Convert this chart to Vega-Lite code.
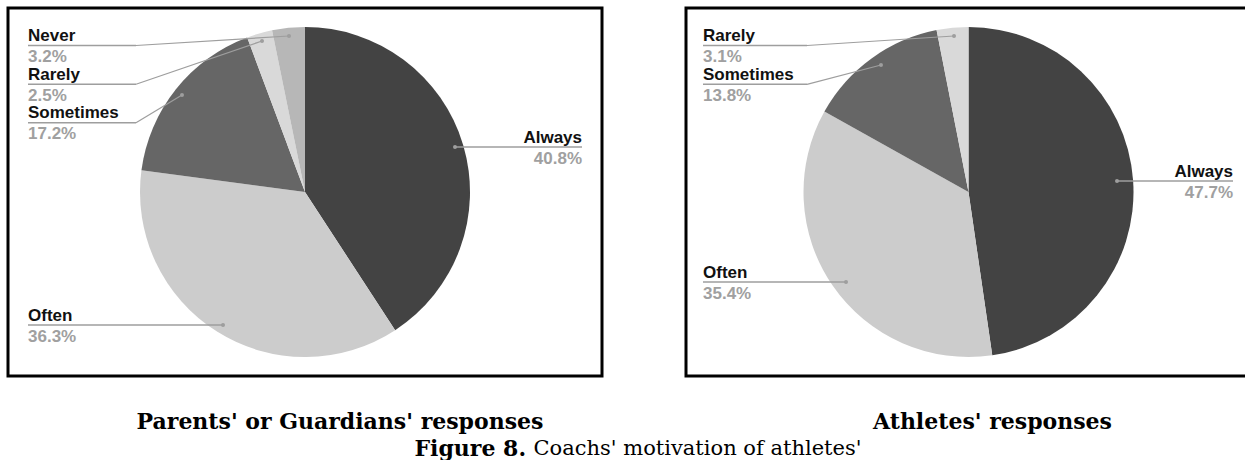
{
  "$schema": "https://vega.github.io/schema/vega-lite/v6.json",
  "padding": {"left": 6, "top": 6, "right": 0, "bottom": 0},
  "autosize": {"type": "pad"},
  "background": "white",
  "config": {
    "view": {"stroke": "#000000", "strokeWidth": 3},
    "text": {"font": "Liberation Sans"}
  },
  "title": {
    "text": "Coachs' motivation of athletes'",
    "orient": "bottom",
    "anchor": "start",
    "dx": 527,
    "dy": -22,
    "offset": 0,
    "font": "DejaVu Serif",
    "fontSize": 21,
    "fontWeight": "normal",
    "color": "#000000"
  },
  "vconcat": [
    {
      "title": {
        "text": "Figure 8.",
        "orient": "bottom",
        "anchor": "start",
        "dx": 408,
        "offset": 4,
        "font": "DejaVu Serif",
        "fontSize": 22,
        "fontWeight": "bold",
        "color": "#000000"
      },
      "spacing": 80,
      "hconcat": [
        {
          "width": 594,
          "height": 368,
          "title": {
            "text": "Parents' or Guardians' responses",
            "orient": "bottom",
            "dx": 35,
            "offset": 36,
            "font": "DejaVu Serif",
            "fontSize": 22,
            "fontWeight": "bold",
            "color": "#000000"
          },
          "data": {
            "values": [
              {"cat": "Always", "pct": 0.408, "k": 1},
              {"cat": "Often", "pct": 0.363, "k": 2},
              {"cat": "Sometimes", "pct": 0.172, "k": 3},
              {"cat": "Rarely", "pct": 0.025, "k": 4},
              {"cat": "Never", "pct": 0.032, "k": 5}
            ]
          },
          "resolve": {"scale": {"x": "independent", "y": "independent"}},
          "layer": [
            {
              "mark": {"type": "arc", "outerRadius": 165, "strokeWidth": 0},
              "encoding": {
                "theta": {"field": "pct", "type": "quantitative", "stack": true},
                "order": {"field": "k", "type": "quantitative"},
                "color": {
                  "field": "cat",
                  "type": "nominal",
                  "scale": {
                    "domain": ["Always", "Often", "Sometimes", "Rarely", "Never"],
                    "range": ["#434343", "#cccccc", "#666666", "#d9d9d9", "#b7b7b7"]
                  },
                  "legend": null
                }
              }
            },
            {
              "mark": {"type": "rule", "color": "#9e9e9e", "strokeWidth": 1.4},
              "encoding": {
                "x": {"field": "k", "type": "quantitative", "axis": null,
                  "scale": {"domain": [0.025, 0.032, 0.172, 0.363, 0.408, 1, 2, 3, 4, 5],
                    "range": [128, 128, 128, 215, 574, 447, 20, 20, 20, 20], "zero": false, "nice": false}},
                "x2": {"field": "pct"},
                "y": {"field": "k", "type": "quantitative", "axis": null,
                  "scale": {"domain": [1, 2, 3, 4, 5], "range": [139, 317, 114.7, 76.3, 37.5], "zero": false, "nice": false}}
              }
            },
            {
              "transform": [{"filter": "datum.k >= 3"}],
              "mark": {"type": "rule", "color": "#9e9e9e", "strokeWidth": 1.2},
              "encoding": {
                "x": {"field": "k", "type": "quantitative", "axis": null,
                  "scale": {"domain": [0.025, 0.032, 0.172, 3, 4, 5],
                    "range": [254, 281, 174, 128, 128, 128], "zero": false, "nice": false}},
                "x2": {"field": "pct"},
                "y": {"field": "k", "type": "quantitative", "axis": null,
                  "scale": {"domain": [0.025, 0.032, 0.172, 3, 4, 5],
                    "range": [33, 28, 87, 114.7, 76.3, 37.5], "zero": false, "nice": false}},
                "y2": {"field": "pct"}
              }
            },
            {
              "mark": {"type": "point", "filled": true, "size": 16, "color": "#9e9e9e", "opacity": 1},
              "encoding": {
                "x": {"field": "k", "type": "quantitative", "axis": null,
                  "scale": {"domain": [1, 2, 3, 4, 5], "range": [447, 215, 174, 254, 281], "zero": false, "nice": false}},
                "y": {"field": "k", "type": "quantitative", "axis": null,
                  "scale": {"domain": [1, 2, 3, 4, 5], "range": [139, 317, 87, 33, 28], "zero": false, "nice": false}}
              }
            },
            {
              "mark": {"type": "text", "fontWeight": "bold", "fontSize": 17, "color": "#111111",
                "baseline": "alphabetic", "dy": -4.5,
                "align": {"expr": "datum.k == 1 ? 'right' : 'left'"}},
              "encoding": {
                "x": {"field": "k", "type": "quantitative", "axis": null,
                  "scale": {"domain": [1, 2, 3, 4, 5], "range": [574, 20, 20, 20, 20], "zero": false, "nice": false}},
                "y": {"field": "k", "type": "quantitative", "axis": null,
                  "scale": {"domain": [1, 2, 3, 4, 5], "range": [139, 317, 114.7, 76.3, 37.5], "zero": false, "nice": false}},
                "text": {"field": "cat"}
              }
            },
            {
              "mark": {"type": "text", "fontWeight": "bold", "fontSize": 17, "color": "#a0a0a0",
                "baseline": "alphabetic", "dy": 16.5,
                "align": {"expr": "datum.k == 1 ? 'right' : 'left'"}},
              "encoding": {
                "x": {"field": "k", "type": "quantitative", "axis": null,
                  "scale": {"domain": [1, 2, 3, 4, 5], "range": [574, 20, 20, 20, 20], "zero": false, "nice": false}},
                "y": {"field": "k", "type": "quantitative", "axis": null,
                  "scale": {"domain": [1, 2, 3, 4, 5], "range": [139, 317, 114.7, 76.3, 37.5], "zero": false, "nice": false}},
                "text": {"field": "pct", "format": ".1%"}
              }
            }
          ]
        },
        {
          "width": 565,
          "height": 368,
          "title": {
            "text": "Athletes' responses",
            "orient": "bottom",
            "dx": 24,
            "offset": 36,
            "font": "DejaVu Serif",
            "fontSize": 22,
            "fontWeight": "bold",
            "color": "#000000"
          },
          "data": {
            "values": [
              {"cat": "Always", "pct": 0.477, "k": 1},
              {"cat": "Often", "pct": 0.354, "k": 2},
              {"cat": "Sometimes", "pct": 0.138, "k": 3},
              {"cat": "Rarely", "pct": 0.031, "k": 4}
            ]
          },
          "resolve": {"scale": {"x": "independent", "y": "independent"}},
          "layer": [
            {
              "mark": {"type": "arc", "outerRadius": 165, "strokeWidth": 0},
              "encoding": {
                "theta": {"field": "pct", "type": "quantitative", "stack": true},
                "order": {"field": "k", "type": "quantitative"},
                "color": {
                  "field": "cat",
                  "type": "nominal",
                  "scale": {
                    "domain": ["Always", "Often", "Sometimes", "Rarely"],
                    "range": ["#434343", "#cccccc", "#666666", "#d9d9d9"]
                  },
                  "legend": null
                }
              }
            },
            {
              "mark": {"type": "rule", "color": "#9e9e9e", "strokeWidth": 1.4},
              "encoding": {
                "x": {"field": "k", "type": "quantitative", "axis": null,
                  "scale": {"domain": [0.031, 0.138, 0.354, 0.477, 1, 2, 3, 4],
                    "range": [121, 121, 160, 547, 431, 17, 17, 17], "zero": false, "nice": false}},
                "x2": {"field": "pct"},
                "y": {"field": "k", "type": "quantitative", "axis": null,
                  "scale": {"domain": [1, 2, 3, 4], "range": [173, 274, 76.3, 37.5], "zero": false, "nice": false}}
              }
            },
            {
              "transform": [{"filter": "datum.k >= 3"}],
              "mark": {"type": "rule", "color": "#9e9e9e", "strokeWidth": 1.2},
              "encoding": {
                "x": {"field": "k", "type": "quantitative", "axis": null,
                  "scale": {"domain": [0.031, 0.138, 3, 4],
                    "range": [268, 195, 121, 121], "zero": false, "nice": false}},
                "x2": {"field": "pct"},
                "y": {"field": "k", "type": "quantitative", "axis": null,
                  "scale": {"domain": [0.031, 0.138, 3, 4],
                    "range": [28, 57, 76.3, 37.5], "zero": false, "nice": false}},
                "y2": {"field": "pct"}
              }
            },
            {
              "mark": {"type": "point", "filled": true, "size": 16, "color": "#9e9e9e", "opacity": 1},
              "encoding": {
                "x": {"field": "k", "type": "quantitative", "axis": null,
                  "scale": {"domain": [1, 2, 3, 4], "range": [431, 160, 195, 268], "zero": false, "nice": false}},
                "y": {"field": "k", "type": "quantitative", "axis": null,
                  "scale": {"domain": [1, 2, 3, 4], "range": [173, 274, 57, 28], "zero": false, "nice": false}}
              }
            },
            {
              "mark": {"type": "text", "fontWeight": "bold", "fontSize": 17, "color": "#111111",
                "baseline": "alphabetic", "dy": -4.5,
                "align": {"expr": "datum.k == 1 ? 'right' : 'left'"}},
              "encoding": {
                "x": {"field": "k", "type": "quantitative", "axis": null,
                  "scale": {"domain": [1, 2, 3, 4], "range": [547, 17, 17, 17], "zero": false, "nice": false}},
                "y": {"field": "k", "type": "quantitative", "axis": null,
                  "scale": {"domain": [1, 2, 3, 4], "range": [173, 274, 76.3, 37.5], "zero": false, "nice": false}},
                "text": {"field": "cat"}
              }
            },
            {
              "mark": {"type": "text", "fontWeight": "bold", "fontSize": 17, "color": "#a0a0a0",
                "baseline": "alphabetic", "dy": 16.5,
                "align": {"expr": "datum.k == 1 ? 'right' : 'left'"}},
              "encoding": {
                "x": {"field": "k", "type": "quantitative", "axis": null,
                  "scale": {"domain": [1, 2, 3, 4], "range": [547, 17, 17, 17], "zero": false, "nice": false}},
                "y": {"field": "k", "type": "quantitative", "axis": null,
                  "scale": {"domain": [1, 2, 3, 4], "range": [173, 274, 76.3, 37.5], "zero": false, "nice": false}},
                "text": {"field": "pct", "format": ".1%"}
              }
            }
          ]
        }
      ]
    }
  ]
}
